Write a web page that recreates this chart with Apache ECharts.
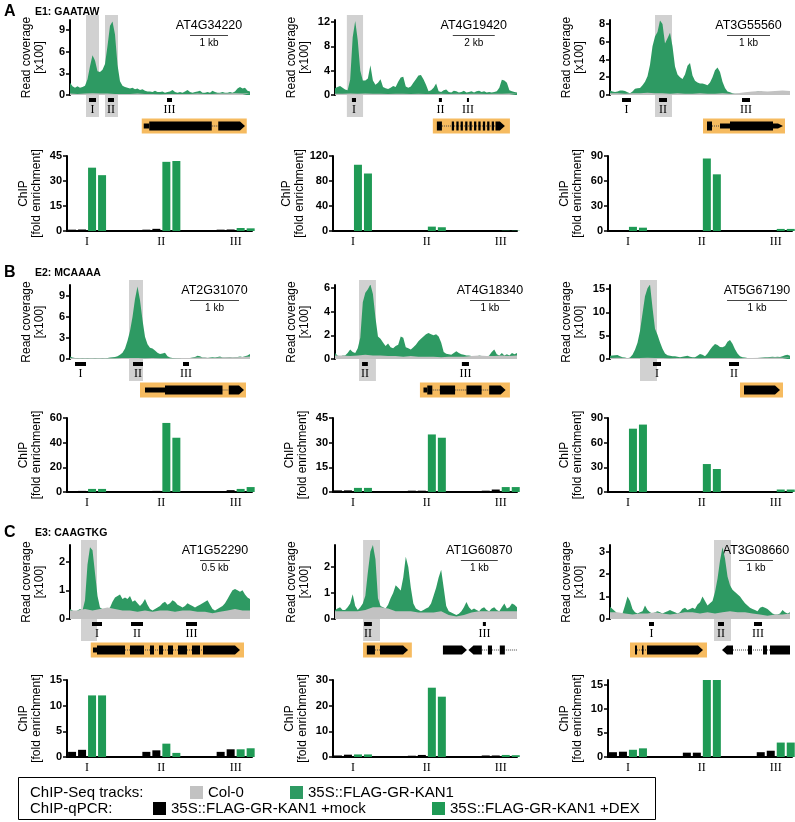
<!DOCTYPE html>
<html><head><meta charset="utf-8">
<script src="https://cdn.jsdelivr.net/npm/echarts@6/dist/echarts.min.js"></script>
<style>html,body{margin:0;padding:0;background:#fff}#c{width:795px;height:822px}</style>
</head><body><div id="c"></div>
<script>
// ---------- data ----------
const amplicons = ['I','II','III'];
// ChIP-seq coverage (x100 reads), 35S::FLAG-GR-KAN1 track, 73 bins across window
const kanA1=[1.7,1.2,1.0,1.2,1.0,1.1,1.3,2.2,4.0,5.5,4.8,3.3,3.2,3.5,4.3,6.8,9.6,10.2,8.4,4.2,1.9,1.3,1.1,1.0,0.9,1.0,0.8,0.9,0.7,0.8,0.6,0.5,0.5,0.4,0.6,0.4,0.4,0.5,0.3,0.4,0.5,0.7,0.4,0.3,0.4,0.3,0.5,0.7,0.4,0.3,0.4,0.5,0.6,0.3,0.3,0.4,0.3,0.6,0.4,0.3,0.3,0.4,0.3,0.3,0.4,0.3,0.5,0.9,1.1,0.9,1.0,0.6,0.5];
const kanA2=[1.1,1.3,1.5,1.2,0.9,0.8,2.5,9.5,12.2,9.0,4.0,2.4,2.4,2.7,4.9,2.4,1.7,2.0,2.6,1.3,1.1,1.0,1.2,1.5,1.3,2.2,2.9,3.0,1.4,1.2,1.4,2.0,2.6,3.2,3.3,2.6,1.7,0.6,0.8,1.2,1.9,0.6,0.5,0.8,0.9,0.5,0.4,0.7,0.6,0.4,0.5,0.7,0.4,0.5,0.6,0.4,0.6,0.7,0.5,0.6,0.4,0.5,0.4,0.5,0.6,1.2,2.5,2.4,2.0,0.8,0.6,0.5,0.4];
const kanA3=[0.5,0.4,0.35,0.4,0.5,0.5,0.45,0.3,0.2,0.4,0.7,0.75,0.8,1.1,1.5,2.1,3.4,5.5,6.6,7.1,8.4,8.0,5.8,6.4,7.0,5.5,3.2,2.3,2.0,1.8,2.3,3.3,3.6,2.2,1.6,1.4,1.3,1.3,1.2,1.1,1.4,2.0,2.8,3.1,2.6,1.5,0.8,0.4,0.3,0.2,0.15,0.15,0.1,0.15,0.1,0.15,0.2,0.25,0.3,0.4,0.45,0.35,0.3,0.3,0.25,0.3,0.25,0.3,0.3,0.35,0.3,0.3,0.3];
const kanB1=[0.35,0.2,0.15,0.15,0.1,0.15,0.1,0.15,0.1,0.1,0.15,0.1,0.1,0.15,0.1,0.15,0.2,0.25,0.3,0.4,0.6,0.9,1.5,2.6,4.0,6.0,8.6,10.4,8.4,5.6,3.2,2.1,1.6,1.5,1.2,0.9,0.7,0.8,0.9,0.4,0.2,0.15,0.1,0.1,0.15,0.1,0.1,0.15,0.15,0.2,0.3,0.45,0.4,0.2,0.2,0.15,0.2,0.25,0.2,0.3,0.35,0.2,0.2,0.25,0.3,0.2,0.25,0.3,0.35,0.3,0.4,0.5,0.7];
const kanB2=[0.5,0.3,0.2,0.3,0.3,0.5,0.8,0.6,0.5,0.9,1.8,4.8,5.6,5.9,6.3,5.5,3.5,1.9,1.7,1.4,1.1,1.3,1.0,0.9,1.1,1.2,1.9,1.8,1.0,0.9,0.8,1.0,1.2,1.5,1.7,1.9,2.1,2.2,2.1,2.0,2.1,1.9,1.4,0.6,0.45,0.4,0.35,0.5,0.65,0.5,0.4,0.35,0.3,0.3,0.25,0.2,0.2,0.3,0.25,0.15,0.15,0.3,0.6,0.8,0.4,0.3,0.5,0.3,0.4,0.3,0.5,0.4,0.5];
const kanB3=[0.7,0.75,0.8,0.85,0.6,0.4,0.3,0.15,0.3,0.9,2.0,3.5,6.0,9.8,13.5,15.2,16.0,11.0,6.5,5.2,3.6,2.2,1.2,0.8,0.7,0.6,0.6,0.5,0.4,0.5,0.6,0.7,0.5,0.4,0.4,0.7,1.1,0.9,0.6,1.2,2.0,2.7,3.2,3.0,2.6,2.5,2.8,3.7,4.1,3.3,2.1,1.2,0.6,0.4,0.3,0.2,0.15,0.15,0.2,0.2,0.25,0.3,0.35,0.4,0.45,0.5,0.45,0.5,0.45,0.6,0.8,0.9,0.7];
const kanC1=[0.35,0.3,0.25,0.3,0.35,0.3,0.65,1.9,2.5,2.4,1.6,0.8,0.4,0.35,0.3,0.35,0.4,0.6,0.75,0.8,0.85,0.7,0.75,0.7,0.8,0.6,0.65,0.55,0.45,0.55,0.7,0.5,0.35,0.3,0.35,0.4,0.45,0.55,0.6,0.5,0.55,0.65,0.6,0.5,0.45,0.4,0.45,0.55,0.5,0.45,0.4,0.45,0.5,0.55,0.6,0.65,0.5,0.35,0.3,0.35,0.4,0.45,0.55,0.7,0.85,1.0,1.05,1.0,0.95,1.0,0.85,0.75,0.7];
const kanC2=[0.35,0.4,0.45,0.35,0.35,0.45,0.6,0.95,0.5,0.35,0.45,0.6,0.9,1.8,2.6,2.85,2.3,0.8,0.5,0.45,0.4,0.55,0.8,1.0,1.3,1.2,1.1,1.6,2.4,2.0,1.2,0.6,0.4,0.35,0.3,0.35,0.4,0.45,0.6,0.9,1.2,1.6,1.9,1.2,0.5,0.3,0.25,0.2,0.15,0.2,0.3,0.45,0.65,0.45,0.35,0.4,0.35,0.3,0.4,0.45,0.35,0.3,0.4,0.45,0.35,0.3,0.45,0.6,0.4,0.45,0.6,0.55,0.45];
const kanC3=[0.55,0.45,0.35,0.25,0.2,0.25,0.6,1.0,0.8,0.45,0.3,0.25,0.3,0.35,0.6,0.4,0.3,0.25,0.3,0.35,0.3,0.25,0.3,0.35,0.4,0.35,0.3,0.25,0.3,0.45,0.5,0.4,0.45,0.5,0.45,0.65,0.75,1.0,0.8,0.6,0.7,0.8,1.2,1.8,2.6,3.2,2.7,1.9,1.5,1.3,1.2,1.1,1.0,0.85,0.7,0.6,0.5,0.45,0.4,0.35,0.5,0.55,0.5,0.45,0.35,0.25,0.2,0.2,0.25,0.4,0.3,0.25,0.3];
// Col-0 track, 25 bins (every 3rd bin)
const colA1=[0.2,0.15,0.2,0.25,0.2,0.2,0.15,0.15,0.15,0.2,0.15,0.15,0.1,0.15,0.15,0.15,0.15,0.2,0.15,0.15,0.2,0.2,0.25,0.2,0.25];
const colA2=[0.2,0.2,0.25,0.2,0.25,0.2,0.2,0.15,0.2,0.2,0.15,0.2,0.15,0.15,0.2,0.15,0.2,0.15,0.2,0.2,0.15,0.2,0.2,0.25,0.2];
const colA3=[0.2,0.2,0.15,0.2,0.2,0.25,0.2,0.2,0.15,0.2,0.15,0.15,0.2,0.15,0.15,0.2,0.15,0.2,0.3,0.4,0.45,0.4,0.45,0.5,0.45];
const colB1=[0.15,0.1,0.1,0.1,0.1,0.1,0.1,0.15,0.15,0.15,0.1,0.15,0.1,0.1,0.1,0.15,0.15,0.2,0.2,0.15,0.2,0.25,0.25,0.3,0.35];
const colB2=[0.3,0.3,0.25,0.3,0.35,0.3,0.3,0.25,0.25,0.2,0.25,0.2,0.2,0.2,0.15,0.2,0.2,0.2,0.25,0.3,0.25,0.25,0.3,0.25,0.3];
const colB3=[0.2,0.25,0.2,0.2,0.2,0.25,0.2,0.2,0.15,0.2,0.2,0.2,0.15,0.2,0.2,0.2,0.2,0.15,0.2,0.2,0.25,0.25,0.3,0.25,0.3];
const colC1=[0.3,0.3,0.35,0.3,0.35,0.4,0.35,0.3,0.3,0.25,0.3,0.25,0.3,0.3,0.25,0.3,0.3,0.25,0.25,0.2,0.25,0.3,0.35,0.3,0.3];
const colC2=[0.3,0.3,0.3,0.3,0.35,0.45,0.45,0.4,0.3,0.3,0.3,0.25,0.25,0.25,0.3,0.15,0.1,0.15,0.25,0.3,0.3,0.3,0.3,0.3,0.3];
const colC3=[0.3,0.3,0.25,0.2,0.25,0.25,0.3,0.25,0.2,0.25,0.3,0.3,0.25,0.3,0.25,0.3,0.35,0.3,0.3,0.25,0.2,0.15,0.2,0.2,0.25];
// y-axis tick labels
const covTicksA1=[0,3,6,9], covTicksA2=[0,4,8,12], covTicksA3=[0,2,4,6,8];
const covTicksB1=[0,3,6,9], covTicksB2=[0,2,4,6], covTicksB3=[0,5,10,15];
const covTicksC1=[0,1,2], covTicksC2=[0,1,2], covTicksC3=[0,1,2,3];
const chipTicksA1=[0,15,30,45], chipTicksA2=[0,40,80,120], chipTicksA3=[0,30,60,90];
const chipTicksB1=[0,20,40,60], chipTicksB2=[0,15,30,45], chipTicksB3=[0,30,60,90];
const chipTicksC1=[0,5,10,15], chipTicksC2=[0,10,20,30], chipTicksC3=[0,5,10,15];
// highlighted peak regions (bins)
const hlA1=[[6.4,11.6],[14,19.2]], hlA2=[[4.7,11.1]], hlA3=[[18,24.8]];
const hlB1=[[23.6,29.2]], hlB2=[[9.5,16.2]], hlB3=[[12,18.8]];
const hlC1=[[4.4,10.8]], hlC2=[[11.1,17.8]], hlC3=[[41.6,48.4]];
// qPCR amplicons (bins)
const ampA1=[[7.6,10.4,'I'],[15.2,17.6,'II'],[38.8,40.8,'III']];
const ampA2=[[6.7,8.3,'I'],[41.1,42.3,'II'],[52.2,53.0,'III']];
const ampA3=[[4.8,8.4,'I'],[19.6,22.8,'II'],[52.8,56,'III']];
const ampB1=[[2,6.4,'I'],[25.2,29.2,'II'],[45.2,47.6,'III']];
const ampB2=[[10.7,13,'II'],[50.2,53,'III']];
const ampB3=[[17.2,20.4,'I'],[47.6,51.6,'II']];
const ampC1=[[8.8,12.8,'I'],[24.4,29.2,'II'],[46.4,50.8,'III']];
const ampC2=[[11.5,14.6,'II'],[58.5,59.7,'III']];
const ampC3=[[15.6,17.6,'I'],[43.2,45.6,'II'],[57.6,60.8,'III']];
// gene models (bins, feature type)
const geneA1=[[28.7,70.7,'box'],[56.7,59.3,'intron'],[29.5,31.7,'utr'],[31.7,56.7,'exon'],[59.3,70,'arrowR']];
const geneA2=[[38.7,69.2,'box'],[42.3,64,'intron'],[40.3,42.3,'exon'],[46.2,47.1,'exon'],[48.0,48.9,'exon'],[49.7,50.6,'exon'],[51.5,52.4,'exon'],[53.2,54.1,'exon'],[55.0,55.9,'exon'],[56.7,57.6,'exon'],[58.5,59.4,'exon'],[60.2,61.1,'exon'],[62.0,62.9,'exon'],[63.5,67.2,'arrowR']];
const geneA3=[[37.2,70,'box'],[40.8,44,'intron'],[38.8,40.8,'exon'],[44,48,'utr'],[48,65.2,'exon'],[65.2,69.2,'utrArrowR']];
const geneB1=[[28,70.4,'box'],[61,63.5,'intron'],[30,38,'utr'],[38,61,'exon'],[63.5,69.6,'arrowR']];
const geneB2=[[33.6,69.2,'box'],[36.5,61,'intron'],[35,36.5,'utr'],[36.5,38.5,'exon'],[41.5,47.5,'exon'],[52,58,'exon'],[61,67.5,'arrowR']];
const geneB3=[[52,69.2,'box'],[53.6,68,'arrowR']];
const geneC1=[[8.3,69.6,'box'],[22,53.2,'intron'],[9.2,10.8,'utr'],[10.8,22,'exon'],[24,29.6,'exon'],[32,33.6,'exon'],[35.6,37.2,'exon'],[39.2,41.2,'exon'],[43.2,46.8,'exon'],[48.8,52,'exon'],[53.2,68,'arrowR']];
const geneC2=[[11.1,30.4,'box'],[15.8,17.8,'intron'],[12.6,15.8,'exon'],[17.8,28.9,'arrowR'],[58.1,72,'intron'],[42.7,52.2,'arrowR'],[52.8,58.1,'arrowL'],[60.5,62.1,'exon'],[65.2,67.2,'exon']];
const geneC3=[[8,38.8,'box'],[10,14.8,'intron'],[10,10.8,'exon'],[12.8,13.4,'exon'],[14.8,30.8,'exon'],[30.8,37.2,'arrowR'],[49.2,64,'intron'],[44.8,49.2,'arrowL'],[55.2,56.8,'exon'],[61.2,62.8,'exon'],[64,72,'exon']];
// scale bars (bins) and labels
const scaleA1=[48,63.2], scaleA2=[46.6,63.2], scaleA3=[46.8,64];
const scaleB1=[48,67.6], scaleB2=[53.4,69.2], scaleB3=[46.8,70.8];
const scaleC1=[52,64], scaleC2=[49.8,64.4], scaleC3=[51.6,65.2];
// ChIP-qPCR fold enrichment: [mock rep1, mock rep2, DEX rep1, DEX rep2] x amplicons I..III
const chipA1=[[0.8,0.8,0.8],[0.9,1.3,0.9],[38,41.5,1.8],[33.5,42,1.6]];
const chipA2=[[1,0.5,0.4],[1,0.5,0.4],[106,7,0.5],[92,6,0.5]];
const chipA3=[[0.5,0.5,0.5],[0.5,0.8,1],[5,87,2.5],[4,68,2.5]];
const chipB1=[[0.8,0.8,0.8],[0.9,0.9,1.5],[2.5,56,2.5],[2.5,44,4]];
const chipB2=[[1,0.8,0.8],[1,0.8,1.5],[2.5,35,3],[2.5,33,3]];
const chipB3=[[1,0.8,0.8],[1,1,1],[77,34,3],[82,28,3]];
const chipC1=[[1,1,1],[1.4,1.3,1.5],[12,2.6,1.5],[12,0.8,1.7]];
const chipC2=[[0.6,0.5,0.6],[0.9,0.8,0.6],[1,27,0.8],[1,23.5,0.7]];
const chipC3=[[1,0.9,1],[1.1,0.9,1.3],[1.5,16,3],[1.8,16,3]];

// ---------- style / layout ----------
const FONT='Liberation Sans, Arial, Helvetica, sans-serif';
const SERIF='Liberation Serif, Times New Roman, serif';
const GREEN_TRACK='#2e9a63', GRAY='#c2c2c2', BAR_GREEN='#1f9a55', ORANGE='#f6bb60', HL='rgba(70,70,70,0.25)';
const NBIN=72;
const COL_COV=[{left:70,width:180},{left:335,width:182},{left:610,width:180}];
const COL_CHIP=[{left:67,width:185},{left:333,width:184},{left:608,width:184}];
const ROW_COV=[{top:20,height:75},{top:285,height:74},{top:545,height:74}];
const ROW_CHIP=[{top:156,height:75},{top:418,height:74},{top:680,height:77}];

const panels=[
 {r:0,c:0,kan:kanA1,col0:colA1,max:10.4,ticks:covTicksA1,hl:hlA1,amp:ampA1,gene:geneA1,scale:scaleA1,gname:'AT4G34220',kb:'1 kb',chip:chipA1,cmax:45,cticks:chipTicksA1},
 {r:0,c:1,kan:kanA2,col0:colA2,max:12.35,ticks:covTicksA2,hl:hlA2,amp:ampA2,gene:geneA2,scale:scaleA2,gname:'AT4G19420',kb:'2 kb',chip:chipA2,cmax:120,cticks:chipTicksA2},
 {r:0,c:2,kan:kanA3,col0:colA3,max:8.45,ticks:covTicksA3,hl:hlA3,amp:ampA3,gene:geneA3,scale:scaleA3,gname:'AT3G55560',kb:'1 kb',chip:chipA3,cmax:90,cticks:chipTicksA3},
 {r:1,c:0,kan:kanB1,col0:colB1,max:10.6,ticks:covTicksB1,hl:hlB1,amp:ampB1,gene:geneB1,scale:scaleB1,gname:'AT2G31070',kb:'1 kb',chip:chipB1,cmax:60,cticks:chipTicksB1},
 {r:1,c:1,kan:kanB2,col0:colB2,max:6.25,ticks:covTicksB2,hl:hlB2,amp:ampB2,gene:geneB2,scale:scaleB2,gname:'AT4G18340',kb:'1 kb',chip:chipB2,cmax:45,cticks:chipTicksB2},
 {r:1,c:2,kan:kanB3,col0:colB3,max:15.9,ticks:covTicksB3,hl:hlB3,amp:ampB3,gene:geneB3,scale:scaleB3,gname:'AT5G67190',kb:'1 kb',chip:chipB3,cmax:90,cticks:chipTicksB3},
 {r:2,c:0,kan:kanC1,col0:colC1,max:2.58,ticks:covTicksC1,hl:hlC1,amp:ampC1,gene:geneC1,scale:scaleC1,gname:'AT1G52290',kb:'0.5 kb',chip:chipC1,cmax:15,cticks:chipTicksC1},
 {r:2,c:1,kan:kanC2,col0:colC2,max:2.85,ticks:covTicksC2,hl:hlC2,amp:ampC2,gene:geneC2,scale:scaleC2,gname:'AT1G60870',kb:'1 kb',chip:chipC2,cmax:30,cticks:chipTicksC2},
 {r:2,c:2,kan:kanC3,col0:colC3,max:3.3,ticks:covTicksC3,hl:hlC3,amp:ampC3,gene:geneC3,scale:scaleC3,gname:'AT3G08660',kb:'1 kb',chip:chipC3,cmax:16,cticks:chipTicksC3}
];

function yAxisStyle(name,ticks,gap){
  return {
    type:'value', name:name, nameLocation:'middle', nameRotate:90, nameGap:gap,
    nameTextStyle:{fontFamily:FONT,fontSize:12,color:'#000',lineHeight:13},
    axisLine:{show:true,onZero:false,lineStyle:{color:'#000',width:2}},
    axisTick:{show:true,length:4,customValues:ticks,lineStyle:{color:'#000',width:1.5}},
    axisLabel:{customValues:ticks,fontFamily:FONT,fontWeight:'bold',fontSize:11,color:'#000',margin:5},
    splitLine:{show:false}
  };
}

const grid=[],xAxis=[],yAxis=[],series=[];
panels.forEach(p=>{
  // coverage grid
  const gi=grid.length;
  grid.push({left:COL_COV[p.c].left,width:COL_COV[p.c].width,top:ROW_COV[p.r].top,height:ROW_COV[p.r].height,containLabel:false,outerBoundsMode:'none'});
  xAxis.push({gridIndex:gi,type:'value',min:0,max:NBIN,show:false});
  yAxis.push(Object.assign({gridIndex:gi,min:0,max:p.max},yAxisStyle('Read coverage\n[x100]',p.ticks,24)));
  series.push({type:'line',name:'35S::FLAG-GR-KAN1',xAxisIndex:gi,yAxisIndex:gi,data:p.kan.map((v,i)=>[i,v]),
    symbol:'none',lineStyle:{width:0},itemStyle:{color:GREEN_TRACK},areaStyle:{color:GREEN_TRACK,opacity:1},silent:true});
  series.push({type:'line',name:'Col-0',xAxisIndex:gi,yAxisIndex:gi,data:p.col0.map((v,j)=>[j*3,v]),
    symbol:'none',lineStyle:{width:0},itemStyle:{color:GRAY},areaStyle:{color:GRAY,opacity:1},silent:true});
  // highlighted peak regions
  series.push({type:'custom',xAxisIndex:gi,yAxisIndex:gi,clip:false,silent:true,data:p.hl.map(h=>[h[0],h[1]]),
    renderItem:function(params,api){
      const cs=params.coordSys;
      const a=api.coord([api.value(0),0])[0], b=api.coord([api.value(1),0])[0];
      return {type:'rect',shape:{x:a,y:cs.y-5,width:b-a,height:cs.height+5+22},style:{fill:HL}};
    }});
  // amplicons
  const amp=p.amp;
  series.push({type:'custom',xAxisIndex:gi,yAxisIndex:gi,clip:false,silent:true,data:amp.map(h=>[h[0],h[1]]),
    renderItem:function(params,api){
      const cs=params.coordSys, y0=cs.y+cs.height;
      const a=api.coord([api.value(0),0])[0], b=api.coord([api.value(1),0])[0];
      return {type:'group',children:[
        {type:'rect',shape:{x:a,y:y0+3,width:b-a,height:4},style:{fill:'#000'}},
        {type:'text',x:(a+b)/2,y:y0+15,style:{text:amp[params.dataIndex][2],fontFamily:SERIF,fontSize:12,fill:'#000',align:'center',verticalAlign:'middle'}}
      ]};
    }});
  // gene models
  const gene=p.gene;
  series.push({type:'custom',xAxisIndex:gi,yAxisIndex:gi,clip:false,silent:true,data:gene.map(g=>[g[0],g[1]]),
    renderItem:function(params,api){
      const cs=params.coordSys, yc=cs.y+cs.height+31;
      const a=api.coord([api.value(0),0])[0], b=api.coord([api.value(1),0])[0];
      const t=gene[params.dataIndex][2];
      if(t==='box') return {type:'rect',shape:{x:a,y:yc-7.5,width:b-a,height:15},style:{fill:ORANGE}};
      if(t==='intron') return {type:'line',shape:{x1:a,y1:yc,x2:b,y2:yc},style:{stroke:'#444',lineWidth:1,lineDash:[1,1]}};
      if(t==='exon') return {type:'rect',shape:{x:a,y:yc-4.5,width:b-a,height:9},style:{fill:'#000'}};
      if(t==='utr') return {type:'rect',shape:{x:a,y:yc-2.5,width:b-a,height:5},style:{fill:'#000'}};
      const h=(t==='utrArrowR')?2.5:4.5, tip=Math.min(5,b-a);
      if(t==='arrowR'||t==='utrArrowR') return {type:'polygon',shape:{points:[[a,yc-h],[b-tip,yc-h],[b,yc],[b-tip,yc+h],[a,yc+h]]},style:{fill:'#000'}};
      if(t==='arrowL') return {type:'polygon',shape:{points:[[b,yc-h],[a+tip,yc-h],[a,yc],[a+tip,yc+h],[b,yc+h]]},style:{fill:'#000'}};
      return null;
    }});
  // gene name + scale bar
  const pn=p;
  series.push({type:'custom',xAxisIndex:gi,yAxisIndex:gi,clip:false,silent:true,data:[[p.scale[0],p.scale[1]]],
    renderItem:function(params,api){
      const cs=params.coordSys;
      const a=api.coord([api.value(0),0])[0], b=api.coord([api.value(1),0])[0];
      return {type:'group',children:[
        {type:'text',x:(a+b)/2,y:cs.y+6,style:{text:pn.gname,fontFamily:FONT,fontSize:12.5,fill:'#000',align:'center',verticalAlign:'middle'}},
        {type:'line',shape:{x1:a,y1:cs.y+15.5,x2:b,y2:cs.y+15.5},style:{stroke:'#444',lineWidth:1}},
        {type:'text',x:(a+b)/2,y:cs.y+23,style:{text:pn.kb,fontFamily:FONT,fontSize:10,fill:'#000',align:'center',verticalAlign:'middle'}}
      ]};
    }});
  // ChIP-qPCR grid
  const gj=grid.length;
  grid.push({left:COL_CHIP[p.c].left,width:COL_CHIP[p.c].width,top:ROW_CHIP[p.r].top,height:ROW_CHIP[p.r].height,containLabel:false,outerBoundsMode:'none'});
  xAxis.push({gridIndex:gj,type:'value',min:-0.27,max:2.22,
    axisLine:{show:true,onZero:false,lineStyle:{color:'#000',width:2}},axisTick:{show:false},splitLine:{show:false},
    axisLabel:{customValues:[0,1,2],formatter:v=>amplicons[Math.round(v)],fontFamily:SERIF,fontSize:12,color:'#000',margin:5}});
  yAxis.push(Object.assign({gridIndex:gj,min:0,max:p.cmax},yAxisStyle('ChIP\n[fold enrichment]',p.cticks,24)));
  const names=['35S::FLAG-GR-KAN1 +mock','35S::FLAG-GR-KAN1 +mock','35S::FLAG-GR-KAN1 +DEX','35S::FLAG-GR-KAN1 +DEX'];
  const cols=['#000','#000',BAR_GREEN,BAR_GREEN];
  p.chip.forEach((vals,k)=>{
    series.push({type:'bar',name:names[k],xAxisIndex:gj,yAxisIndex:gj,barWidth:8,barGap:'25%',
      itemStyle:{color:cols[k]},data:vals.map((v,i)=>[i,v]),silent:true});
  });
});

const legendCommon={orient:'horizontal',itemWidth:13,itemHeight:13,itemGap:0,padding:0,selectedMode:false,
  textStyle:{fontFamily:FONT,fontSize:15,color:'#000'}};
const legend=[
  Object.assign({left:190,top:785,data:[{name:'Col-0',icon:'rect',itemStyle:{color:GRAY}}]},legendCommon),
  Object.assign({left:290,top:785,data:[{name:'35S::FLAG-GR-KAN1',icon:'rect',itemStyle:{color:GREEN_TRACK}}]},legendCommon),
  Object.assign({left:153,top:801,data:[{name:'35S::FLAG-GR-KAN1 +mock',icon:'rect',itemStyle:{color:'#000'}}]},legendCommon),
  Object.assign({left:432,top:801,data:[{name:'35S::FLAG-GR-KAN1 +DEX',icon:'rect',itemStyle:{color:BAR_GREEN}}]},legendCommon)
];

function txt(x,y,t,size,bold){return {type:'text',x:x,y:y,style:{text:t,fontFamily:FONT,fontSize:size,fontWeight:bold?'bold':'normal',fill:'#000',verticalAlign:'middle'}};}
const graphic=[
  txt(4,12,'A',16,true), txt(35,12,'E1: GAATAW',10.5,true),
  txt(4,273,'B',16,true), txt(35,273,'E2: MCAAAA',10.5,true),
  txt(4,533,'C',16,true), txt(35,533,'E3: CAAGTKG',10.5,true),
  {type:'rect',shape:{x:18.5,y:777.5,width:637,height:42},style:{fill:'none',stroke:'#000',lineWidth:1}},
  txt(30,793,'ChIP-Seq tracks:',15,false),
  txt(30,809,'ChIP-qPCR:',15,false)
];

const chart=echarts.init(document.getElementById('c'),null,{renderer:'canvas'});
chart.setOption({animation:false,backgroundColor:'#fff',grid,xAxis,yAxis,series,legend,graphic,tooltip:{show:false}});
</script></body></html>
